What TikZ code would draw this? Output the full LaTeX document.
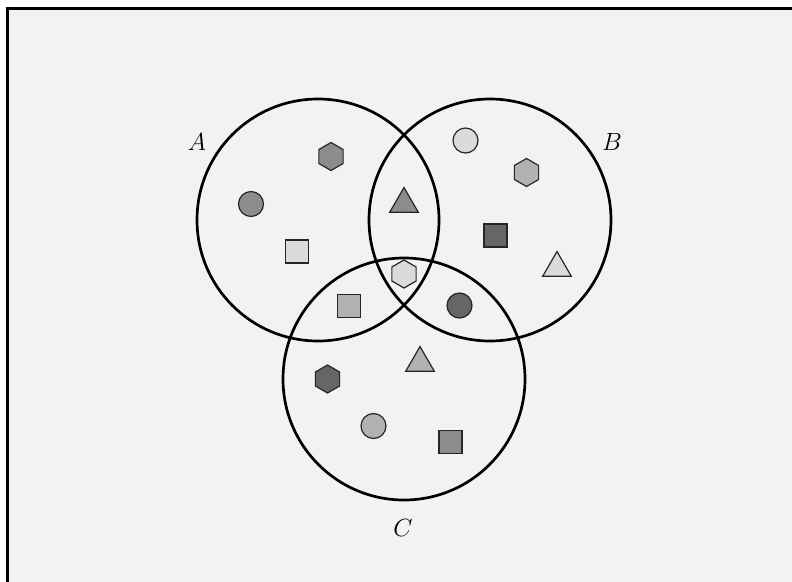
\documentclass[tikz,border=0pt]{standalone}
\usetikzlibrary{shapes.geometric}
\definecolor{bgc}{gray}{0.949}
\definecolor{gA}{gray}{0.86}
\definecolor{gB}{gray}{0.70}
\definecolor{gC}{gray}{0.55}
\definecolor{gD}{gray}{0.40}
\definecolor{edge}{gray}{0.15}
\tikzset{
  setc/.style={circle, draw=black, line width=2.7pt, minimum size=242pt, inner sep=0pt},
  item/.style={draw=edge, line width=1.2pt, inner sep=0pt},
  dot/.style={item, circle, minimum size=25pt},
  sq/.style={item, rectangle, minimum size=23pt},
  tri/.style={item, regular polygon, regular polygon sides=3, minimum size=33pt},
  hexa/.style={item, regular polygon, regular polygon sides=6, shape border rotate=30, minimum size=28pt},
  lbl/.style={font=\fontsize{25}{30}\selectfont}
}
\begin{document}
\begin{tikzpicture}[x=1pt,y=-1pt]
\useasboundingbox (0,0) rectangle (792,581);
\clip (0,0) rectangle (792,581);
\draw[line width=2.4pt, fill=bgc] (7.5,8.5) rectangle (810,600);
% sets
\node[setc] (A) at (318,220) {};
\node[setc] (B) at (490,220) {};
\node[setc] (C) at (404,379) {};
\node[lbl] (la) at (197,142) {$A$};
\node[lbl] (lb) at (612,142) {$B$};
\node[lbl] (lc) at (403,528) {$C$};
% A only
\node[hexa, fill=gC] (a1) at (331,156.5) {};
\node[dot, fill=gC] (a2) at (251,204) {};
\node[sq, fill=gA] (a3) at (297,251.5) {};
% B only
\node[dot, fill=gA] (b1) at (465.5,140.5) {};
\node[hexa, fill=gB] (b2) at (526.5,172.5) {};
\node[sq, fill=gD] (b3) at (495.5,235.5) {};
\node[tri, fill=gA] (b4) at (557,268) {};
% A and B
\node[tri, fill=gC] (ab) at (404,204) {};
% A, B and C
\node[hexa, fill=gA] (abc) at (404,274) {};
% A and C
\node[sq, fill=gB] (ac) at (349,306) {};
% B and C
\node[dot, fill=gD] (bc) at (459.5,305.5) {};
% C only
\node[tri, fill=gB] (c1) at (420,363) {};
\node[hexa, fill=gD] (c2) at (327.5,379) {};
\node[dot, fill=gB] (c3) at (373.5,426) {};
\node[sq, fill=gC] (c4) at (450.5,442) {};
\end{tikzpicture}
\end{document}
